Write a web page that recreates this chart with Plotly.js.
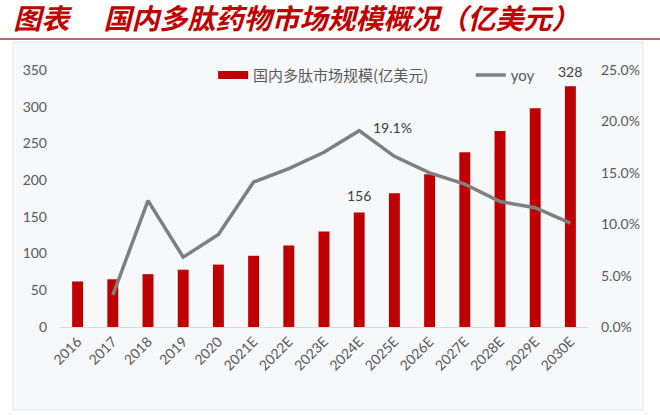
<!DOCTYPE html>
<html>
<head>
<meta charset="utf-8">
<script src="https://cdn.plot.ly/plotly-3.0.1.min.js"></script>
<style>
  html, body { margin: 0; padding: 0; background: #ffffff; }
  #chart { width: 660px; height: 415px; }
</style>
</head>
<body>
<div id="chart"></div>
<script>
// 国内多肽药物市场规模 (bars, left axis) and yoy growth (line, right axis)

const years = ['2016', '2017', '2018', '2019', '2020', '2021E', '2022E', '2023E',
    '2024E', '2025E', '2026E', '2027E', '2028E', '2029E', '2030E'];

const marketSize = [62, 65, 72, 78, 85, 97, 111, 130, 156, 182, 208, 238, 267, 298, 328];

const yoy = [null, 0.031, 0.123, 0.068, 0.090, 0.141, 0.154, 0.170, 0.191,
    0.166, 0.150, 0.139, 0.122, 0.116, 0.101];

const barName = '国内多肽市场规模(亿美元)';
const lineName = 'yoy';

// =========================================================================

const RED = '#C00000';
const GREY = '#7F7F7F';
const TICK = '#595959';
const FONT = 'Lato, "Noto Sans CJK SC", sans-serif';

const data = [
    {
        name: barName,
        type: 'bar',
        x: years,
        y: marketSize,
        marker: { color: RED },
        showlegend: false,
        hoverinfo: 'x+y'
    },
    {
        // legend stand-in so the bar key is drawn as a wide red stroke
        name: barName,
        type: 'scatter',
        mode: 'lines',
        x: [null],
        y: [null],
        line: { color: RED, width: 8 },
        hoverinfo: 'skip'
    },
    {
        name: lineName,
        type: 'scatter',
        mode: 'lines',
        x: years,
        y: yoy,
        yaxis: 'y2',
        legend: 'legend2',
        line: { color: GREY, width: 3.5 },
        connectgaps: false,
        hoverinfo: 'x+y'
    }
];

const legendBase = {
    orientation: 'h',
    xanchor: 'left',
    y: 0.98,
    yanchor: 'middle',
    bgcolor: 'rgba(0,0,0,0)',
    itemwidth: 30
};

const layout = {
    width: 660,
    height: 415,
    margin: { l: 60, r: 72, t: 70, b: 88 },
    paper_bgcolor: '#ffffff',
    plot_bgcolor: 'rgba(0,0,0,0)',
    font: { family: FONT, color: TICK, size: 13 },
    title: {
        text: '图表\u3000 国内多肽药物市场规模概况（亿美元）',
        font: { family: '"Noto Sans CJK SC", sans-serif', size: 28, color: RED, weight: 'bold', style: 'italic' },
        x: 0.02,
        xanchor: 'left',
        y: 0.954,
        yanchor: 'middle'
    },
    bargap: 0.69,
    xaxis: {
        type: 'category',
        tickangle: -45,
        showgrid: false,
        showline: true,
        linecolor: '#d9d9d9',
        linewidth: 1,
        ticks: '',
        tickfont: { family: FONT, size: 14, color: TICK },
        fixedrange: true
    },
    yaxis: {
        range: [0, 350],
        dtick: 50,
        showgrid: false,
        zeroline: false,
        ticks: '',
        ticklabelstandoff: 12,
        tickfont: { family: FONT, size: 14, color: TICK },
        fixedrange: true
    },
    yaxis2: {
        overlaying: 'y',
        side: 'right',
        range: [0, 0.25],
        dtick: 0.05,
        tickformat: '.1%',
        showgrid: false,
        zeroline: false,
        ticks: '',
        ticklabelstandoff: 12,
        tickfont: { family: FONT, size: 14, color: TICK },
        fixedrange: true
    },
    legend: Object.assign({}, legendBase, {
        x: 0.29,
        font: { family: '"Noto Sans CJK SC", sans-serif', size: 15, color: TICK }
    }),
    legend2: Object.assign({}, legendBase, {
        x: 0.778,
        font: { family: FONT, size: 15, color: TICK }
    }),
    annotations: [
        {
            x: '2024E', y: 156, xref: 'x', yref: 'y',
            text: '156', showarrow: false, yanchor: 'bottom', yshift: 6,
            font: { family: FONT, size: 14, color: '#404040' }
        },
        {
            x: '2030E', y: 328, xref: 'x', yref: 'y',
            text: '328', showarrow: false, yanchor: 'bottom', yshift: 4,
            font: { family: FONT, size: 14, color: '#404040' }
        },
        {
            x: '2024E', y: 0.191, xref: 'x', yref: 'y2',
            text: '19.1%', showarrow: false, xanchor: 'left', xshift: 12, yshift: 3,
            font: { family: FONT, size: 14, color: '#404040' }
        }
    ],
    shapes: [
        {
            // panel behind the chart
            type: 'rect', xref: 'paper', yref: 'paper', layer: 'below',
            x0: -0.089, x1: 1.104, y0: -0.323, y1: 1.109,
            fillcolor: '#f7f8fa',
            line: { color: '#e2e4e8', width: 1 }
        },
        {
            // rule under the heading
            type: 'line', xref: 'paper', yref: 'paper',
            x0: -0.12, x1: 1.15, y0: 1.1206, y1: 1.1206,
            line: { color: '#c0626c', width: 2 }
        }
    ]
};

const config = { displayModeBar: false, staticPlot: true };

Plotly.newPlot('chart', data, layout, config);
</script>
</body>
</html>
